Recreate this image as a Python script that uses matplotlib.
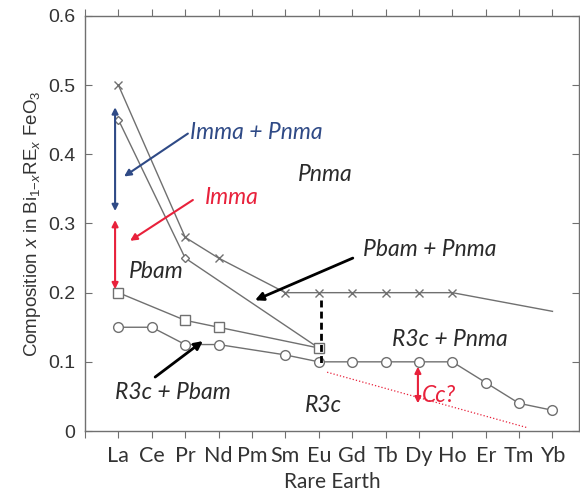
import matplotlib
matplotlib.use('Agg')
import matplotlib.pyplot as plt
from matplotlib import font_manager
import numpy as np

# rare earth series, La..Yb placed at 1..14
elements = ['La', 'Ce', 'Pr', 'Nd', 'Pm', 'Sm', 'Eu', 'Gd', 'Tb', 'Dy', 'Ho', 'Er', 'Tm', 'Yb']
pos = {el: i + 1 for i, el in enumerate(elements)}

# Pnma boundary (crosses), last point drawn without marker
cross_el = ['La', 'Pr', 'Nd', 'Sm', 'Eu', 'Gd', 'Tb', 'Dy', 'Ho']
cross_x = [0.5, 0.28, 0.25, 0.2, 0.2, 0.2, 0.2, 0.2, 0.2]
cross_tail = ('Yb', 0.173)

# Imma / Pbam boundary (small diamonds)
dia_el = ['La', 'Pr']
dia_x = [0.45, 0.25]
dia_tail = ('Eu', 0.12)

# Pbam lower boundary (squares)
sq_el = ['La', 'Pr', 'Nd', 'Eu']
sq_x = [0.2, 0.16, 0.15, 0.12]

# R3c boundary (circles)
circ_el = ['La', 'Ce', 'Pr', 'Nd', 'Sm', 'Eu', 'Gd', 'Tb', 'Dy', 'Ho', 'Er', 'Tm', 'Yb']
circ_x = [0.15, 0.15, 0.125, 0.125, 0.11, 0.1, 0.1, 0.1, 0.1, 0.1, 0.07, 0.04, 0.03]

GREY = '#707070'
BLUE = '#2f4a86'
RED = '#e8213b'
INK = '#2a2a2a'
CAL = ['Lato', 'DejaVu Sans']

names = {f.name for f in font_manager.fontManager.ttflist}
NARROW = 'Liberation Sans Narrow' if 'Liberation Sans Narrow' in names else 'Liberation Sans'

plt.rcParams['mathtext.fontset'] = 'custom'
plt.rcParams['mathtext.rm'] = NARROW
plt.rcParams['mathtext.it'] = NARROW + ':italic'
plt.rcParams['mathtext.sf'] = NARROW

fig = plt.figure(figsize=(5.8, 5.0), dpi=100)
ax = fig.add_axes([0.1466, 0.138, 0.852, 0.830])

def xs(els):
    return [pos[e] for e in els]

line_kw = dict(color=GREY, lw=1.0, mec=GREY, mfc='white', mew=1.0)

ax.plot(xs(cross_el) + [pos[cross_tail[0]]], cross_x + [cross_tail[1]], color=GREY, lw=1.0)
ax.plot(xs(cross_el), cross_x, 'x', ms=6, mec=GREY, mew=1.0)
ax.plot(xs(dia_el) + [pos[dia_tail[0]]], dia_x + [dia_tail[1]], color=GREY, lw=1.0)
ax.plot(xs(dia_el), dia_x, 'D', ms=4, mec=GREY, mfc='white', mew=1.0)
ax.plot(xs(sq_el), sq_x, '-s', ms=6.5, **line_kw)
ax.plot(xs(circ_el), circ_x, '-o', ms=7, **line_kw)

# Eu phase boundary
ax.plot([7.07, 7.07], [0.19, 0.095], color='black', lw=2, ls=(0, (2.5, 1.5)))

# Cc? region edge
ax.plot([7.25, 13.23], [0.085, 0.005], color=RED, lw=0.9, ls=':')

def arrow(tail, head, col, lw=1.5, style='-|>', ms=10):
    ax.annotate('', xy=head, xytext=tail,
                arrowprops=dict(arrowstyle=style, color=col, lw=lw,
                                mutation_scale=ms, shrinkA=0, shrinkB=0))

# vertical range markers
arrow((0.9, 0.318), (0.9, 0.468), BLUE, style='<|-|>', ms=9)
arrow((0.9, 0.205), (0.9, 0.305), RED, style='<|-|>', ms=9)
arrow((9.97, 0.04), (9.97, 0.093), RED, style='<|-|>', ms=9)

tkw = dict(fontsize=16.5, style='italic', family=CAL, ha='left', va='center')

ax.text(3.15, 0.432, 'Imma + Pnma', color=BLUE, **tkw)
arrow((3.08, 0.43), (1.17, 0.368), BLUE)
ax.text(3.6, 0.337, 'Imma', color=RED, **tkw)
arrow((3.23, 0.334), (1.35, 0.275), RED)
ax.text(6.38, 0.371, 'Pnma', color=INK, **tkw)
ax.text(1.32, 0.23, 'Pbam', color=INK, **tkw)
ax.text(8.32, 0.262, 'Pbam + Pnma', color=INK, **tkw)
arrow((8.02, 0.25), (5.09, 0.189), 'black', lw=2, ms=12)
ax.text(9.19, 0.133, 'R3c + Pnma', color=INK, **tkw)
ax.text(0.9, 0.056, 'R3c + Pbam', color=INK, **tkw)
arrow((2.1, 0.078), (3.53, 0.13), 'black', lw=2, ms=12)
ax.text(6.59, 0.037, 'R3c', color=INK, **tkw)
ax.text(10.1, 0.052, 'Cc?', color=RED, **tkw)

ax.set_xlim(0, 14.8)
ax.set_ylim(0, 0.6)
ax.set_xticks(range(0, 15))
ax.set_xticklabels([''] + elements, family=CAL, fontsize=15.5, color='#333333')
ax.set_yticks(np.arange(0, 0.61, 0.1))
ax.set_yticklabels(['0', '0.1', '0.2', '0.3', '0.4', '0.5', '0.6'],
                   family='Liberation Sans', fontsize=14, color='#333333')
ax.tick_params(axis='x', direction='out', top=True, length=5, width=0.8,
               color=GREY, pad=6)
ax.tick_params(axis='y', direction='in', right=True, length=5, width=0.8,
               color=GREY, pad=7)
for s in ax.spines.values():
    s.set_color(GREY)
    s.set_linewidth(1.0)

ax.set_xlabel('Rare Earth', family=CAL, fontsize=15, color='#333333', labelpad=4)
ax.set_ylabel(r'Composition $\mathit{x}$ in Bi$_{1\mathsf{-}\mathit{x}}$RE$_{\mathit{x}}$ FeO$_3$',
              family=NARROW, fontsize=13.5, color='#333333', labelpad=4)

fig.savefig('out.png', dpi=100)
